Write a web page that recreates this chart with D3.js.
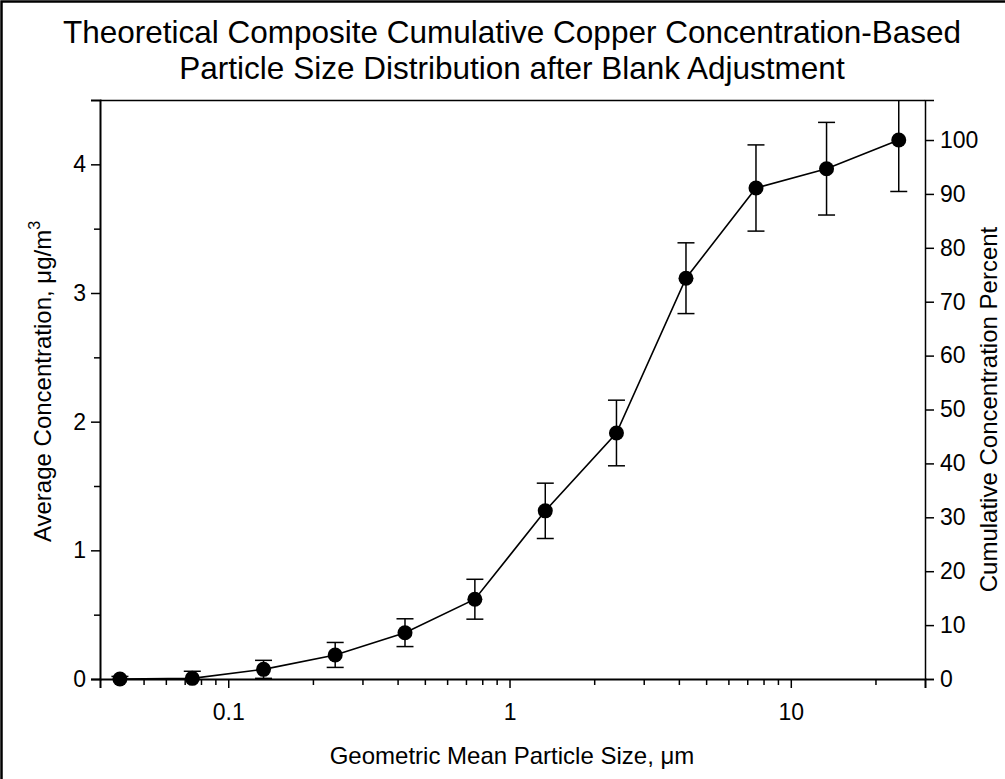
<!DOCTYPE html>
<html><head><meta charset="utf-8">
<script src="https://cdn.jsdelivr.net/npm/d3@7"></script>
<style>
html,body{margin:0;padding:0;background:#fff;}
svg{display:block;font-family:"Liberation Sans",Arial,sans-serif;}
</style></head>
<body>
<svg id="chart" width="1005" height="779"></svg>
<script>
// Data
const sizes = [0.0412, 0.0745, 0.1335, 0.240, 0.425, 0.753, 1.34, 2.40, 4.24, 7.52, 13.4, 24.2];
const concentration = [0.0, 0.005, 0.075, 0.187, 0.360, 0.620, 1.307, 1.912, 3.115, 3.816, 3.966, 4.189];
const errors = [0.02, 0.055, 0.07, 0.097, 0.108, 0.155, 0.215, 0.255, 0.275, 0.335, 0.36, 0.40];
const xMajorTicks = [0.1, 1, 10];
const xMinorTicks = [0.04,0.05,0.06,0.07,0.08,0.09,0.2,0.3,0.4,0.5,0.6,0.7,0.8,0.9,2,3,4,5,6,7,8,9,20];
const yMajorTicks = [0, 1, 2, 3, 4];
const yMinorTicks = [0.5, 1.5, 2.5, 3.5];
const pctTicks = [0,10,20,30,40,50,60,70,80,90,100];
const titleLines = ["Theoretical Composite Cumulative Copper Concentration-Based", "Particle Size Distribution after Blank Adjustment"];

const svg = d3.select("#chart");
const L = 100, R = 925, T = 100, B = 679;

// outer border (left & top visible)
svg.append("rect").attr("x",1.5).attr("y",1.5).attr("width",1100).attr("height",900)
  .attr("fill","none").attr("stroke","#000").attr("stroke-width",2.5);

const x = d3.scaleLog().domain([0.035, 30]).range([L, R]);
const y = d3.scaleLinear().domain([0, 4.5]).range([B, T]);
const total = concentration[concentration.length-1];
const yp = d3.scaleLinear().domain([0, 4.5/total*100]).range([B, T]);

// title
svg.append("g").selectAll("text").data(titleLines).join("text")
  .attr("x", 512).attr("y",(d,i)=>43+i*36).attr("text-anchor","middle")
  .attr("font-size",31.5).attr("fill","#000").text(d=>d);

// clip
svg.append("clipPath").attr("id","clip").append("rect")
  .attr("x",L).attr("y",T).attr("width",R-L).attr("height",B-T);

// top frame line
svg.append("line").attr("x1",L).attr("x2",R).attr("y1",T+0.5).attr("y2",T+0.5)
  .attr("stroke","#000").attr("stroke-width",1.5);

// bottom axis
const xAxis = svg.append("g").attr("transform",`translate(0,${B})`)
  .call(d3.axisBottom(x).tickValues(xMajorTicks).tickFormat(d3.format("~g")).tickSizeOuter(0).tickSize(9).tickPadding(16));
const xMinor = svg.append("g").attr("transform",`translate(0,${B})`)
  .call(d3.axisBottom(x).tickValues(xMinorTicks).tickFormat("").tickSizeOuter(0).tickSize(6));
xMinor.select(".domain").remove();

// left axis
const yAxis = svg.append("g").attr("transform",`translate(${L},0)`)
  .call(d3.axisLeft(y).tickValues(yMajorTicks).tickFormat(d3.format("d")).tickSizeOuter(0).tickSize(9).tickPadding(5));
const yMinor = svg.append("g").attr("transform",`translate(${L},0)`)
  .call(d3.axisLeft(y).tickValues(yMinorTicks).tickFormat("").tickSizeOuter(0).tickSize(6));
yMinor.select(".domain").remove();

// right axis
const rAxis = svg.append("g").attr("transform",`translate(${R},0)`)
  .call(d3.axisRight(yp).tickValues(pctTicks).tickFormat(d3.format("d")).tickSizeOuter(0).tickSize(9).tickPadding(6));

[xAxis,xMinor,yAxis,yMinor,rAxis].forEach(g=>{
  g.selectAll("path,line").attr("stroke","#000").attr("stroke-width",1.5);
  g.selectAll("text").attr("font-size",23).attr("fill","#000").attr("font-family","Liberation Sans, Arial, sans-serif");
});
xAxis.select(".domain").attr("stroke-width",2);
yAxis.select(".domain").attr("stroke-width",2);

// axis titles
svg.append("text").attr("x",512).attr("y",764).attr("text-anchor","middle")
  .attr("font-size",24).text("Geometric Mean Particle Size, \u03bcm");
const lt = svg.append("text").attr("transform",`translate(51,${(T+B)/2-8}) rotate(-90)`)
  .attr("text-anchor","middle").attr("font-size",24);
lt.append("tspan").text("Average Concentration, \u03bcg/m");
lt.append("tspan").attr("font-size",16).attr("dy",-11).text("3");
svg.append("text").attr("transform",`translate(997,${(T+B)/2+20}) rotate(-90)`)
  .attr("text-anchor","middle").attr("font-size",24).text("Cumulative Concentration Percent");

// data
const plot = svg.append("g").attr("clip-path","url(#clip)");
const pts = sizes.map((s,i)=>({s, c:concentration[i], e:errors[i]}));
const cap = 8.5;
const eb = plot.append("g").attr("stroke","#000").attr("stroke-width",1.5);
pts.forEach(p=>{
  const cx = x(p.s);
  eb.append("line").attr("x1",cx).attr("x2",cx).attr("y1",y(p.c-p.e)).attr("y2",y(p.c+p.e));
  eb.append("line").attr("x1",cx-cap).attr("x2",cx+cap).attr("y1",y(p.c+p.e)).attr("y2",y(p.c+p.e));
  eb.append("line").attr("x1",cx-cap).attr("x2",cx+cap).attr("y1",y(p.c-p.e)).attr("y2",y(p.c-p.e));
});
svg.append("path").datum(pts).attr("fill","none").attr("stroke","#000").attr("stroke-width",1.6)
  .attr("d", d3.line().x(d=>x(d.s)).y(d=>y(d.c)));
svg.append("g").selectAll("circle").data(pts).join("circle")
  .attr("cx",d=>x(d.s)).attr("cy",d=>y(d.c)).attr("r",7.5).attr("fill","#000");
</script>
</body></html>
